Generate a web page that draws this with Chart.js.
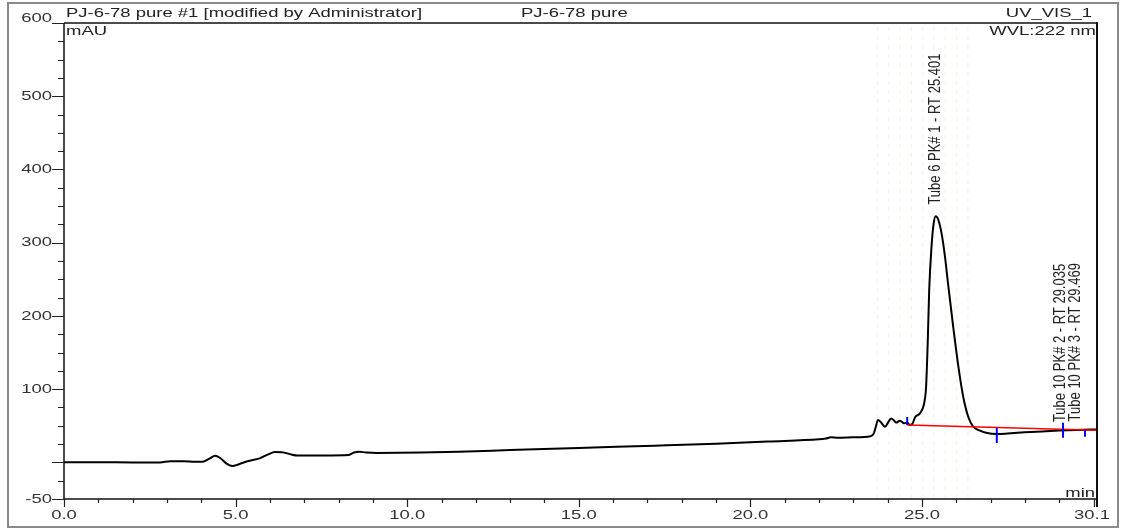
<!DOCTYPE html>
<html>
<head>
<meta charset="utf-8">
<script src="https://cdn.jsdelivr.net/npm/chart.js@4.4.1/dist/chart.umd.min.js"></script>
<style>
  html, body { margin: 0; padding: 0; background: #fff; }
  #wrap { width: 1123px; height: 531px; position: relative; }
</style>
</head>
<body>
<div id="wrap"><canvas id="c" width="1123" height="531"></canvas></div>
<script>
// UV_VIS_1 trace, WVL 222 nm: retention time (min) and absorbance (mAU)
const timeMin = [
  0.00, 1.00, 2.00, 2.80, 3.10, 3.50, 3.80, 4.05, 4.25, 4.40, 4.55, 4.75, 4.90, 5.10, 5.35,
  5.70, 5.95, 6.15, 6.35, 6.60, 6.80, 7.50, 8.30, 8.45, 8.60, 8.80, 9.10, 10.40, 11.50, 13.00,
  15.00, 17.20, 19.00, 20.50, 22.00, 22.20, 22.35, 22.55, 23.00, 23.50, 23.60, 23.65, 23.72, 23.80, 23.92,
  24.02, 24.10, 24.18, 24.25, 24.36, 24.48, 24.57, 24.65, 24.72, 24.80, 24.94, 25.04, 25.09, 25.12, 25.17,
  25.21, 25.28, 25.34, 25.40, 25.47, 25.57, 25.67, 25.77, 25.91, 26.06, 26.20, 26.35, 26.49, 26.69, 26.90,
  27.18, 27.50, 28.00, 28.50, 29.00, 29.50, 30.10
];
const signalMAU = [
  0.2, 0.3, 0.0, 0.0, 1.5, 1.5, 0.8, 1.0, 5.5, 9.0, 6.0, -2.0, -5.0, -2.5, 1.5,
  5.5, 11.0, 14.2, 14.0, 11.0, 9.3, 9.5, 10.2, 13.5, 14.5, 13.6, 12.9, 13.4, 14.5, 16.8,
  19.8, 22.8, 25.5, 28.5, 31.5, 32.6, 34.3, 33.6, 34.2, 35.8, 40.0, 48.0, 58.0, 55.0, 48.8,
  55.0, 60.0, 57.5, 54.3, 57.0, 53.4, 54.5, 51.0, 52.5, 61.6, 67.0, 76.0, 88.0, 103.0, 167.0,
  235.0, 296.0, 326.0, 336.0, 332.0, 313.0, 281.0, 240.0, 185.0, 131.0, 90.0, 62.0, 49.0, 43.3, 40.0,
  38.8, 39.5, 41.0, 42.3, 43.5, 44.3, 45.0
];

// integration baseline (red)
const baselineTime = [24.57, 30.10];
const baselineMAU = [51, 44];

// peak delimiters (blue)
const delimiterTime = [24.57, 27.18, 29.11, 29.75];
const delimiterLow = [51, 26.5, 33.5, 35];
const delimiterHigh = [62, 47, 54, 44];

// fraction collector tube boundaries
const tubeTime = [23.70, 24.03, 24.36, 24.69, 25.02, 25.35, 25.68, 26.01, 26.34];

// peak annotations
const peakNames = ['Tube 6 PK# 1 - RT 25.401', 'Tube 10 PK# 2 - RT 29.035', 'Tube 10 PK# 3 - RT 29.469'];
const peakRT = [25.401, 29.035, 29.469];
const peakLabelStart = [352, 55, 56];

// axis ticks
const yLabelValues = [600, 500, 400, 300, 200, 100, -50];
const xLabelValues = [0, 5, 10, 15, 20, 25, 30.1];
const xLabelText = ['0.0', '5.0', '10.0', '15.0', '20.0', '25.0', '30.1'];

const FONT = '"Liberation Sans", Arial, sans-serif';
const TEXT_STRETCH = 1.42;
const LABEL_STRETCH = 1.2;

const traceData = timeMin.map((t, i) => ({ x: t, y: signalMAU[i] }));
const baselineData = baselineTime.map((t, i) => ({ x: t, y: baselineMAU[i] }));
const delimiterData = [];
delimiterTime.forEach((t, i) => {
  delimiterData.push({ x: t, y: delimiterLow[i] }, { x: t, y: delimiterHigh[i] }, { x: t, y: null });
});
const tubeData = [];
tubeTime.forEach(t => {
  tubeData.push({ x: t, y: -50 }, { x: t, y: 600 }, { x: t, y: null });
});

// horizontally widened text, as printed by the chromatography report
function wideText(ctx, text, x, y, align) {
  ctx.save();
  ctx.translate(x, y);
  ctx.scale(TEXT_STRETCH, 1);
  ctx.textAlign = align;
  ctx.fillText(text, 0, 0);
  ctx.restore();
}

const framePlugin = {
  id: 'frame',
  beforeDraw(chart) {
    const ctx = chart.ctx;
    ctx.save();
    ctx.fillStyle = '#fff';
    ctx.fillRect(0, 0, chart.width, chart.height);
    ctx.strokeStyle = '#8a8a8a';
    ctx.lineWidth = 2;
    ctx.strokeRect(8, 3, 1110, 524);
    ctx.restore();
  }
};

const axesPlugin = {
  id: 'axesAndText',
  afterDatasetsDraw(chart) {
    const ctx = chart.ctx;
    const xs = chart.scales.x, ys = chart.scales.y;
    const a = chart.chartArea;
    ctx.save();

    // axis frame
    ctx.strokeStyle = '#111';
    ctx.lineWidth = 1.5;
    ctx.beginPath();
    ctx.moveTo(a.left, a.top); ctx.lineTo(a.right, a.top);
    ctx.moveTo(a.left, a.top); ctx.lineTo(a.left, a.bottom + 1);
    ctx.moveTo(a.left, a.bottom); ctx.lineTo(a.right, a.bottom);
    ctx.stroke();
    ctx.lineWidth = 2;
    ctx.beginPath();
    ctx.moveTo(a.right, a.top - 1); ctx.lineTo(a.right, a.bottom + 8);
    ctx.stroke();

    // y ticks: majors every 100 (and the -50 floor), minors every 25
    ctx.lineWidth = 1.2;
    ctx.strokeStyle = '#222';
    ctx.beginPath();
    for (let v = -50; v <= 600; v += 25) {
      const y = Math.round(ys.getPixelForValue(v)) + 0.5;
      const major = (v % 100 === 0) || v === -50;
      ctx.moveTo(a.left, y);
      ctx.lineTo(a.left - (major ? 12 : 6), y);
    }
    ctx.stroke();

    // x ticks: majors every 5 min, minors every minute
    ctx.beginPath();
    for (let t = 0; t <= 30; t += 1) {
      const x = Math.round(xs.getPixelForValue(t)) + 0.5;
      const major = t % 5 === 0;
      ctx.moveTo(x, a.bottom);
      ctx.lineTo(x, a.bottom + (major ? 8 : 4));
    }
    ctx.stroke();

    // tick labels
    ctx.fillStyle = '#333';
    ctx.font = '13px ' + FONT;
    ctx.textBaseline = 'middle';
    yLabelValues.forEach(v => {
      const lift = v === ys.max ? 5 : 0;
      wideText(ctx, String(v), a.left - 12, ys.getPixelForValue(v) - lift, 'right');
    });
    ctx.textBaseline = 'top';
    xLabelValues.forEach((t, i) => {
      const last = i === xLabelValues.length - 1;
      const x = last ? xs.getPixelForValue(t) + 13 : xs.getPixelForValue(t);
      wideText(ctx, xLabelText[i], x, a.bottom + 10, last ? 'right' : 'center');
    });

    // header and corner texts
    ctx.fillStyle = '#222';
    ctx.textBaseline = 'middle';
    wideText(ctx, 'PJ-6-78 pure #1 [modified by Administrator]', a.left + 2, 13, 'left');
    wideText(ctx, 'PJ-6-78 pure', 521, 13, 'left');
    wideText(ctx, 'mAU', a.left + 2, 31, 'left');
    wideText(ctx, 'UV_VIS_1', a.right - 5, 13, 'right');
    wideText(ctx, 'WVL:222 nm', a.right - 1, 31, 'right');
    wideText(ctx, 'min', a.right - 2, a.bottom - 6, 'right');

    // peak annotations, rotated
    ctx.font = '13px ' + FONT;
    ctx.fillStyle = '#222';
    peakNames.forEach((name, i) => {
      const x = xs.getPixelForValue(peakRT[i]);
      const y = ys.getPixelForValue(peakLabelStart[i]);
      ctx.save();
      ctx.translate(x, y);
      ctx.scale(LABEL_STRETCH, 1);
      ctx.rotate(-Math.PI / 2);
      ctx.textAlign = 'left';
      ctx.textBaseline = 'middle';
      ctx.fillText(name, 0, 0);
      ctx.restore();
    });

    ctx.restore();
  }
};

new Chart(document.getElementById('c'), {
  type: 'line',
  data: {
    datasets: [
      {
        label: 'Tubes',
        data: tubeData,
        borderColor: 'rgba(225, 200, 150, 0.28)',
        borderWidth: 1,
        borderDash: [4, 5],
        pointRadius: 0,
        spanGaps: false,
        order: 10
      },
      {
        label: 'UV_VIS_1',
        data: traceData,
        borderColor: '#000',
        borderWidth: 2,
        pointRadius: 0,
        cubicInterpolationMode: 'monotone',
        order: 3
      },
      {
        label: 'Baseline',
        data: baselineData,
        borderColor: '#ff0000',
        borderWidth: 1.5,
        pointRadius: 0,
        order: 2
      },
      {
        label: 'Delimiters',
        data: delimiterData,
        borderColor: '#0000ff',
        borderWidth: 2,
        pointRadius: 0,
        spanGaps: false,
        order: 1
      }
    ]
  },
  options: {
    responsive: false,
    animation: false,
    devicePixelRatio: 1,
    layout: { padding: { left: 64, right: 26, top: 23, bottom: 32 } },
    plugins: { legend: { display: false }, tooltip: { enabled: false } },
    scales: {
      x: { type: 'linear', min: 0, max: 30.1, display: false },
      y: { type: 'linear', min: -50, max: 600, display: false }
    }
  },
  plugins: [framePlugin, axesPlugin]
});
</script>
</body>
</html>
